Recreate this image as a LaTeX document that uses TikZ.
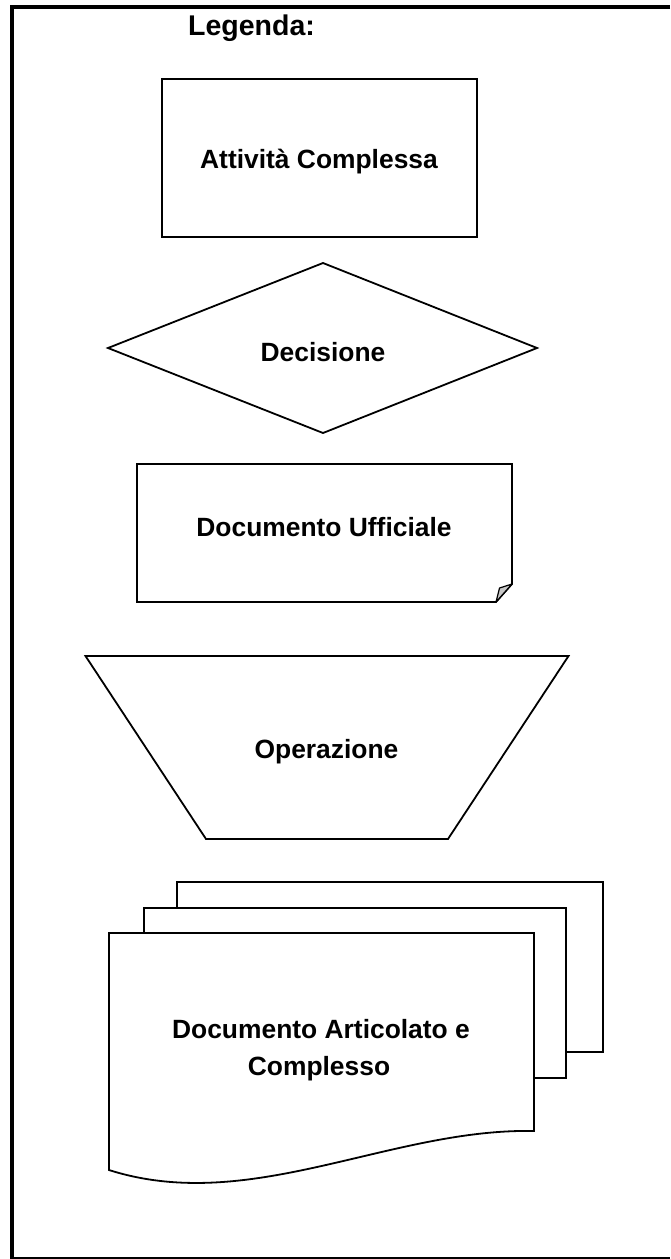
\documentclass[tikz,border=0pt]{standalone}
\usepackage{fontspec}
\setmainfont{Liberation Sans}
\begin{document}
\begin{tikzpicture}[x=1pt,y=-1pt,
  shapeline/.style={draw=black,line width=1.8pt,line join=miter,fill=white},
  label/.style={inner sep=0pt,anchor=base,font=\fontsize{26.4}{32}\selectfont\bfseries},
  title/.style={inner sep=0pt,anchor=base,font=\fontsize{28.5}{34}\selectfont\bfseries},
  frameline/.style={draw=black,line width=4pt}]
\useasboundingbox (0,0) rectangle (670,1259);
% outer frame (open on the right)
\draw[frameline] (670,7) -- (11.5,7) -- (11.5,1259) -- (670,1259);

\node[title] (legenda) at (251.5,35) {Legenda:};

% complex activity
\draw[shapeline] (162,79) rectangle (477,237);
\node[label] (attivita) at (319,168) {Attività Complessa};

% decision
\draw[shapeline] (108,348) -- (323,263) -- (537,348) -- (323,433) -- cycle;
\node[label] (decisione) at (323,361) {Decisione};

% official document with folded corner
\draw[shapeline] (137,464) -- (512,464) -- (512,584) -- (496,602) -- (137,602) -- cycle;
\draw[draw=black,line width=1.2pt,fill=black!22,line join=round] (512,584) -- (499.5,588) -- (496,602) -- cycle;
\node[label] (ufficiale) at (324,536) {Documento Ufficiale};

% operation
\draw[shapeline] (85.5,656) -- (568.5,656) -- (448,839) -- (206,839) -- cycle;
\node[label] (operazione) at (326.5,758) {Operazione};

% multi-document stack
\draw[shapeline] (177,882) rectangle (603,1052);
\draw[shapeline] (144,908) rectangle (566,1078);
\draw[shapeline] (109,933) -- (534,933) -- (534,1131)
  .. controls (390,1128) and (250,1215) .. (109,1170) -- cycle;
\node[label] (articolatoA) at (321,1038) {Documento Articolato e};
\node[label] (articolatoB) at (319,1075) {Complesso};
\end{tikzpicture}
\end{document}
